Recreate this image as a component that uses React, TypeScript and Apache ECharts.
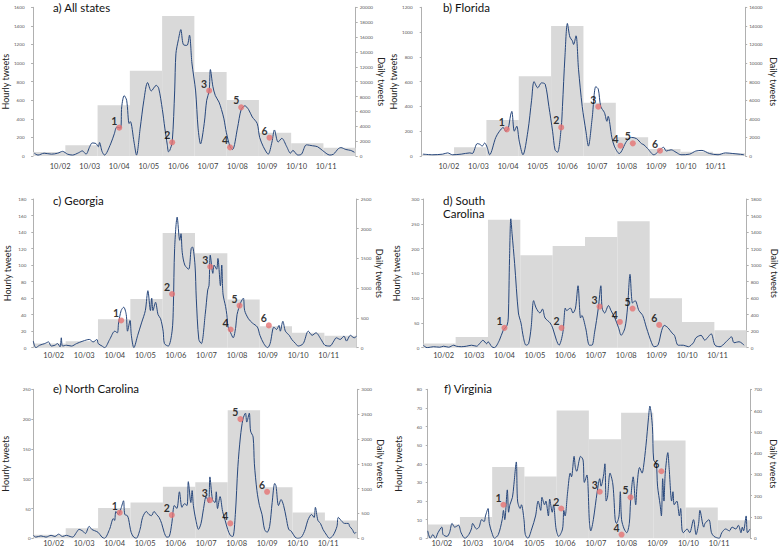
import React, { useEffect, useRef } from "react";
import * as echarts from "echarts";

// ---- shared labels ----
const dayLabels = ["10/02", "10/03", "10/04", "10/05", "10/06", "10/07", "10/08", "10/09", "10/10", "10/11"];
const dayTickHours = [24, 48, 72, 96, 120, 144, 168, 192, 216, 240];
const barDays = ["d1", "d2", "d3", "d4", "d5", "d6", "d7", "d8", "d9", "d10"];
const eventLabels = ["1", "2", "3", "4", "5", "6"];

// ---- a) All states ----
const aHours = [3,6,11,17,22,26,30,34,39,42,45,48,50,53,55,56,58,60,65,68,70,73,74,76,78,80,81,84,86,89,92,95,98,102,104,107,109,111,112,113,115,117,118,120,122,124,127,129,131,134,136,138,141,143,145,146,148,150,153,155,157,159,162,164,168,171,174,177,180,184,186,189,192,193,196,198,201,204,208,211,213,217,220,224,229,233,237,243,246,250,252,256,260,263];
const aHourly = [30,10,30,20,30,50,20,10,35,55,20,100,140,135,100,145,50,10,130,240,310,300,530,650,600,350,370,150,10,300,600,790,700,760,730,500,300,120,45,60,150,700,1100,1250,1360,1200,1190,1300,1000,700,300,130,350,600,700,930,750,650,580,500,400,250,100,70,300,500,540,500,420,350,200,100,30,20,150,280,150,190,100,30,60,10,20,120,110,100,60,10,20,80,90,70,60,40];
const aDaily = [540,1440,6820,11480,18830,11300,7530,3140,1700,1120];
const aEventHours = [72,115,145,162,171,194];
const aEventTweets = [305,147,703,93,524,197];

// ---- b) Florida ----
const bHours = [3,11,19,23,27,34,41,43,47,49,51,53,55,57,62,65,68,70,72,74,75,77,79,81,84,88,91,93,96,99,102,105,108,110,112,115,116,118,120,122,124,125,127,129,132,135,137,140,143,145,147,150,152,153,156,158,162,168,172,176,180,182,185,190,196,198,200,204,208,212,219,224,229,235,242,248,254,259,263];
const bHourly = [15,10,15,25,10,15,25,20,100,95,80,105,70,10,150,200,230,200,220,330,360,200,240,120,10,200,450,600,550,590,580,400,200,50,30,230,400,800,1070,960,930,900,970,700,400,200,80,300,560,540,400,350,280,320,150,80,20,120,150,140,100,90,60,10,60,70,40,50,30,10,15,40,45,20,10,25,20,15,10];
const bDaily = [150,930,3870,8570,13990,5740,2010,750,470,290];
const bEventHours = [71,115,145,163,173,195];
const bEventTweets = [215,231,398,83,102,43];

// ---- c) Georgia ----
const cHours = [8,10,13,17,20,22,25,27,29,30,31,34,38,42,47,52,55,58,59,62,64,68,72,74,75,77,79,81,82,84,85,87,90,93,96,98,100,101,102,104,106,108,110,111,114,117,118,119,121,123,124,125,127,130,132,133,135,136,138,140,143,145,146,147,149,150,152,153,155,156,157,159,160,161,163,165,167,168,171,173,174,177,180,184,186,189,192,194,197,199,201,202,204,206,209,211,214,216,220,224,227,230,234,237,241,244,246,249,252,254,257,260,262];
const cHourly = [8,0,3,5,7,2,3,5,1,12,2,3,2,5,8,10,7,10,5,2,0,10,20,18,30,45,49,40,20,33,15,0,15,30,45,69,45,60,45,55,40,35,20,5,2,20,50,120,158,130,138,115,100,95,120,122,100,60,10,5,40,70,75,112,90,100,95,108,75,100,65,50,40,25,18,12,25,40,55,60,45,35,30,25,15,5,0,5,25,22,27,20,32,20,15,10,5,2,5,20,15,18,10,3,2,8,12,10,14,8,15,12,14];
const cDaily = [70,110,480,820,1930,1590,810,360,250,200];
const cEventHours = [77,117,147,163,170,193];
const cEventTweets = [33,65,98,22,51,27];

// ---- d) South Carolina ----
const dHours = [8,11,16,21,24,28,32,34,38,42,46,50,53,55,58,59,62,64,68,71,74,75,76,77,78,80,83,85,87,89,91,93,95,97,100,102,104,108,110,113,115,118,120,121,124,126,128,130,132,133,136,139,141,143,146,148,149,151,154,156,159,162,164,167,169,171,173,175,178,181,184,188,190,193,196,198,201,204,206,209,213,217,221,223,227,230,232,235,238,242,246,248,251,253,257,261];
const dHourly = [5,0,2,1,3,1,5,3,2,3,5,3,10,15,8,12,2,0,15,35,45,60,180,260,230,170,70,50,20,5,8,40,95,80,70,78,60,50,40,15,5,30,80,75,80,70,80,125,60,65,40,5,5,30,80,125,80,70,85,75,60,40,25,40,80,148,90,95,75,65,40,10,2,5,35,45,40,30,25,5,5,2,10,20,25,15,20,28,5,2,10,15,22,10,12,5];
const dDaily = [50,130,1550,1120,1230,1340,1530,600,310,210];
const dEventHours = [72,117,147,163,173,194];
const dEventTweets = [40,40,83,52,79,46];

// ---- e) North Carolina ----
const eHours = [8,10,14,18,22,25,28,31,34,37,39,42,44,47,49,52,54,56,59,62,64,68,71,72,73,75,77,79,80,82,83,85,87,89,92,94,97,99,101,103,105,107,109,111,113,115,117,119,121,123,125,127,129,130,132,133,134,136,138,140,142,144,146,147,149,151,152,153,155,157,159,161,163,165,167,169,171,173,175,176,178,179,181,182,184,186,188,190,192,194,196,198,199,201,203,205,207,209,211,214,216,219,222,224,227,229,230,232,234,236,239,241,244,247,248,251,253,256,257,259,261,262];
const eHourly = [5,2,4,2,5,3,7,3,5,3,2,10,15,12,8,20,15,13,10,2,0,15,33,30,45,40,50,63,40,38,32,10,2,0,15,35,45,40,38,45,40,35,25,10,2,3,25,55,50,78,52,58,55,95,60,80,55,30,15,25,50,70,60,103,65,60,78,50,70,45,30,15,5,3,40,120,170,200,210,195,210,180,170,125,80,55,40,15,10,20,60,92,88,55,65,55,35,15,12,2,0,2,15,30,40,35,52,30,25,15,5,0,5,20,35,28,25,25,20,15,8,10];
const eDaily = [70,200,610,720,1040,1130,2580,1030,520,360];
const eEventHours = [76,117,147,163,171,192];
const eEventTweets = [43,39,64,25,200,78];

// ---- f) Virginia ----
const fHours = [13,15,17,19,21,24,25,28,30,32,34,37,39,42,45,47,48,51,53,55,57,58,60,61,63,65,68,71,72,73,75,76,77,79,80,82,83,85,86,88,89,91,94,97,99,101,102,104,105,107,108,110,111,113,115,118,119,120,122,124,125,127,128,129,131,132,134,135,137,139,140,142,145,147,148,150,151,152,153,155,157,158,159,160,162,163,164,166,168,170,171,173,175,176,178,180,181,183,185,186,188,189,191,192,194,195,196,197,198,200,201,203,204,205,207,209,210,211,212,215,217,220,222,224,225,228,229,232,234,236,240,242,245,248,250,253,255,257,258,259,261,262,264];
const fHourly = [4,0,2,0,3,6,2,1,3,8,6,7,3,0,2,5,8,5,6,10,9,12,16,8,3,0,2,10,15,10,26,14,18,22,28,41,20,16,18,10,2,0,5,12,20,15,22,18,20,12,21,14,18,5,1,5,15,12,25,35,33,44,38,36,42,44,42,30,34,8,4,10,25,32,28,34,40,20,22,35,30,22,10,8,12,25,10,5,3,8,20,33,18,28,38,35,38,50,65,71,60,42,40,28,18,12,32,20,35,46,38,20,25,18,20,12,16,5,3,5,3,10,2,8,15,6,8,10,3,1,0,3,5,4,6,5,7,3,6,4,12,3,5];
const fDaily = [65,100,335,290,600,465,590,460,145,85];
const fEventHours = [72,117,147,164,171,195];
const fEventTweets = [18,16,25,2,22,36];

// ---- panel definitions (data + axis scales) ----
const panels = [
  { title: "a) All states", hours: aHours, hourly: aHourly, daily: aDaily, evH: aEventHours, evV: aEventTweets, xMin: 2, xMax: 264, yMax: 1600, yInt: 200, y2Max: 20000, y2Int: 2000 },
  { title: "b) Florida", hours: bHours, hourly: bHourly, daily: bDaily, evH: bEventHours, evV: bEventTweets, xMin: 2, xMax: 264, yMax: 1200, yInt: 200, y2Max: 16000, y2Int: 2000 },
  { title: "c) Georgia", hours: cHours, hourly: cHourly, daily: cDaily, evH: cEventHours, evV: cEventTweets, xMin: 8, xMax: 262, yMax: 180, yInt: 20, y2Max: 2500, y2Int: 500 },
  { title: "d) South\nCarolina", hours: dHours, hourly: dHourly, daily: dDaily, evH: dEventHours, evV: dEventTweets, xMin: 8, xMax: 263, yMax: 300, yInt: 50, y2Max: 1800, y2Int: 200 },
  { title: "e) North Carolina", hours: eHours, hourly: eHourly, daily: eDaily, evH: eEventHours, evV: eEventTweets, xMin: 8, xMax: 263, yMax: 250, yInt: 50, y2Max: 3000, y2Int: 500 },
  { title: "f) Virginia", hours: fHours, hourly: fHourly, daily: fDaily, evH: fEventHours, evV: fEventTweets, xMin: 13, xMax: 264, yMax: 80, yInt: 10, y2Max: 700, y2Int: 100 },
];

// ---- layout (pixels) ----
const layout = [
  { left: 31.7, top: 7.3, width: 324, height: 148.7, lm: 8.5, rm: 4, ln: 20, rn: 20, xm: 6, tl: 53, tt: 0.5 },
  { left: 421.7, top: 7.3, width: 323.5, height: 148.7, lm: 9, rm: 4, ln: 20, rn: 24, xm: 6, tl: 443, tt: 0.5 },
  { left: 33.3, top: 199, width: 323.4, height: 148.7, lm: 7, rm: 4, ln: 21.5, rn: 18, xm: 3.5, tl: 53, tt: 193.5 },
  { left: 423.3, top: 199, width: 323.4, height: 148.7, lm: 4, rm: 4, ln: 22, rn: 23, xm: 3.5, tl: 443, tt: 193.5 },
  { left: 33.3, top: 389.3, width: 324, height: 149, lm: 2.6, rm: 4, ln: 23, rn: 19, xm: 1.5, tl: 53, tt: 382 },
  { left: 427.7, top: 389.3, width: 322.3, height: 149, lm: 5.7, rm: 4, ln: 25, rn: 19, xm: 1.5, tl: 444, tt: 382 },
];

const FONT = "Lato, 'Open Sans', sans-serif";
const plain = (v: number) => String(v);

function buildOption() {
  const grid: any[] = [];
  const xAxis: any[] = [];
  const yAxis: any[] = [];
  const series: any[] = [];
  const title: any[] = [];
  panels.forEach((p, i) => {
    const L = layout[i];
    grid.push({ left: L.left, top: L.top, width: L.width, height: L.height, containLabel: false });
    title.push({
      text: p.title,
      left: L.tl,
      top: L.tt,
      padding: 0,
      textStyle: { fontFamily: FONT, fontSize: 11.5, fontWeight: "normal", color: "#111", lineHeight: 13.5 },
    });
    xAxis.push({
      type: "value",
      gridIndex: i,
      min: p.xMin,
      max: p.xMax,
      axisLine: { show: false },
      axisTick: { show: false },
      splitLine: { show: false },
      axisLabel: {
        customValues: dayTickHours,
        formatter: (v: number) => {
          const k = dayTickHours.indexOf(Math.round(v));
          return k >= 0 ? dayLabels[k] : "";
        },
        fontFamily: FONT,
        fontSize: 7.5,
        color: "#404040",
        margin: L.xm,
      },
    });
    xAxis.push({
      type: "category",
      gridIndex: i,
      data: barDays,
      show: false,
      boundaryGap: true,
    });
    const axisCommon = {
      type: "value",
      gridIndex: i,
      min: 0,
      axisLine: { show: true, lineStyle: { color: "#b0b0b0", width: 1 } },
      axisTick: { show: true, length: 2, lineStyle: { color: "#b0b0b0" } },
      splitLine: { show: false },
      nameLocation: "middle",
      nameTextStyle: { fontFamily: FONT, fontSize: 9, color: "#222" },
    };
    yAxis.push({
      ...axisCommon,
      position: "left",
      max: p.yMax,
      interval: p.yInt,
      name: "Hourly tweets",
      nameRotate: 90,
      nameGap: L.ln,
      axisLabel: { fontFamily: FONT, fontSize: 4.6, color: "#595959", margin: L.lm, formatter: plain },
    });
    yAxis.push({
      ...axisCommon,
      position: "right",
      max: p.y2Max,
      interval: p.y2Int,
      name: "Daily tweets",
      nameRotate: -90,
      nameGap: L.rn,
      axisLabel: { fontFamily: FONT, fontSize: 4.6, color: "#595959", margin: L.rm, formatter: plain },
    });
    series.push({
      type: "bar",
      xAxisIndex: 2 * i + 1,
      yAxisIndex: 2 * i + 1,
      data: p.daily,
      barCategoryGap: "0%",
      itemStyle: { color: "#d9d9d9" },
      silent: true,
      z: 1,
    });
    series.push({
      type: "line",
      xAxisIndex: 2 * i,
      yAxisIndex: 2 * i,
      data: p.hours.map((h, k) => [h, p.hourly[k]]),
      showSymbol: false,
      smooth: 0.3,
      lineStyle: { color: "#27477c", width: 1 },
      z: 2,
    });
    series.push({
      type: "scatter",
      xAxisIndex: 2 * i,
      yAxisIndex: 2 * i,
      data: p.evH.map((h, k) => [h, p.evV[k]]),
      symbolSize: 6,
      itemStyle: { color: "#e57373" },
      label: {
        show: true,
        formatter: (prm: any) => eventLabels[prm.dataIndex],
        position: [-2, -4],
        align: "center",
        verticalAlign: "middle",
        fontFamily: FONT,
        fontWeight: "bold",
        fontSize: 10.5,
        color: "#000",
      },
      z: 3,
    });
  });
  return {
    animation: false,
    backgroundColor: "#fff",
    title,
    grid,
    xAxis,
    yAxis,
    series,
  };
}

export default function App() {
  const ref = useRef<HTMLDivElement>(null);
  useEffect(() => {
    if (!ref.current) return;
    const chart = echarts.init(ref.current, null, { renderer: "svg" });
    chart.setOption(buildOption() as any);
    return () => chart.dispose();
  }, []);
  return (
    <div
      ref={ref}
      style={{ position: "absolute", left: 0, top: 0, width: 780, height: 552, background: "#fff" }}
    />
  );
}
